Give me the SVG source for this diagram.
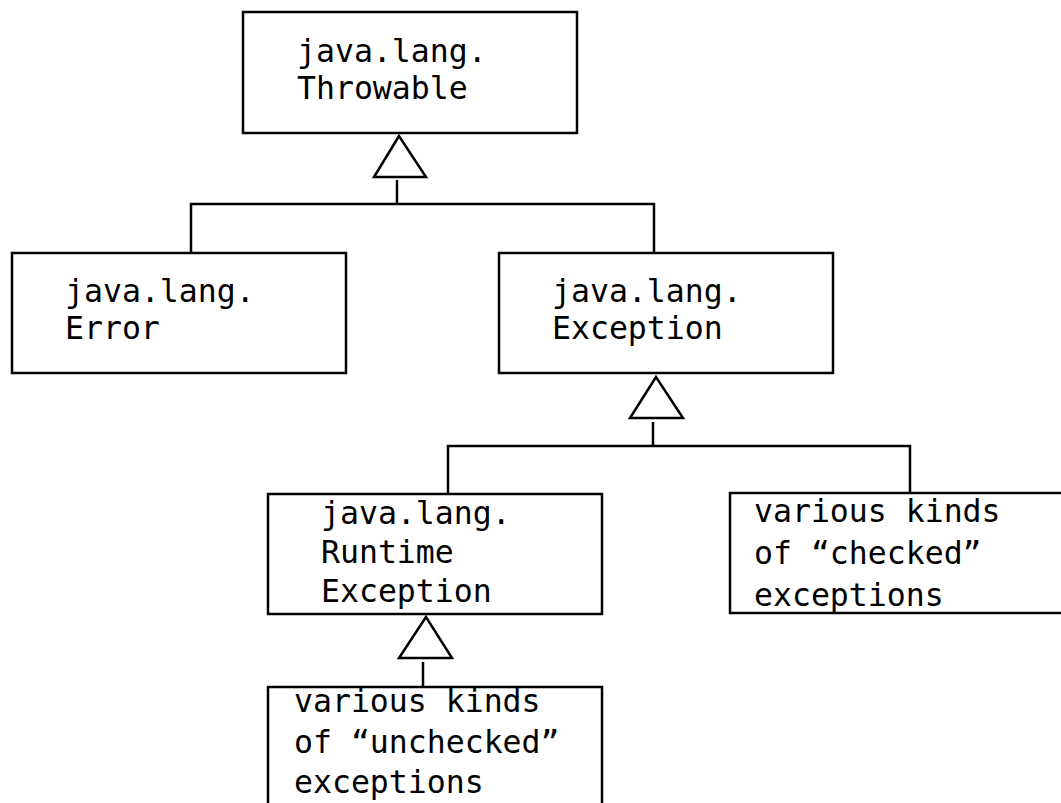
<svg xmlns="http://www.w3.org/2000/svg" width="1061" height="803" viewBox="0 0 1061 803">
<style>
.box{fill:#fff;stroke:#000;stroke-width:2.5}
.lbl{font-family:"DejaVu Sans Mono","Liberation Mono",monospace;font-size:31.5px;fill:#000}
.con{fill:none;stroke:#000;stroke-width:2.5}
.tri{fill:#fff;stroke:#000;stroke-width:2.5;stroke-linejoin:miter}
</style>
<rect width="1061" height="803" fill="#fff"/>
<g id="connectors">
<polygon class="tri" points="399,136 374,177 426,177"/>
<path class="con" d="M397,180 V204 M191,254 V204 H654 V254"/>
<polygon class="tri" points="656,377 630,418 683,418"/>
<path class="con" d="M653,422 V446 M448,494 V446 H910 V494"/>
<polygon class="tri" points="426,617 399,658 452,658"/>
<path class="con" d="M423,662 V687"/>
</g>
<g id="throwable">
<rect class="box" x="243" y="12" width="334" height="121"/>
<text class="lbl" x="297" y="62">java.lang.</text>
<text class="lbl" x="297" y="99">Throwable</text>
</g>
<g id="error">
<rect class="box" x="12" y="253" width="334" height="120"/>
<text class="lbl" x="65" y="302">java.lang.</text>
<text class="lbl" x="65" y="339">Error</text>
</g>
<g id="exception">
<rect class="box" x="499" y="253" width="334" height="120"/>
<text class="lbl" x="552" y="302">java.lang.</text>
<text class="lbl" x="552" y="339">Exception</text>
</g>
<g id="runtime">
<rect class="box" x="268" y="494" width="334" height="120"/>
<text class="lbl" x="321" y="524">java.lang.</text>
<text class="lbl" x="321" y="563">Runtime</text>
<text class="lbl" x="321" y="602">Exception</text>
</g>
<g id="checked">
<rect class="box" x="730" y="493" width="340" height="120"/>
<text class="lbl" x="754" y="522">various kinds</text>
<text class="lbl" x="754" y="564">of “checked”</text>
<text class="lbl" x="754" y="606">exceptions</text>
</g>
<g id="unchecked">
<rect class="box" x="268" y="687" width="334" height="130"/>
<text class="lbl" x="294" y="712">various kinds</text>
<text class="lbl" x="294" y="753">of “unchecked”</text>
<text class="lbl" x="294" y="793">exceptions</text>
</g>
</svg>
